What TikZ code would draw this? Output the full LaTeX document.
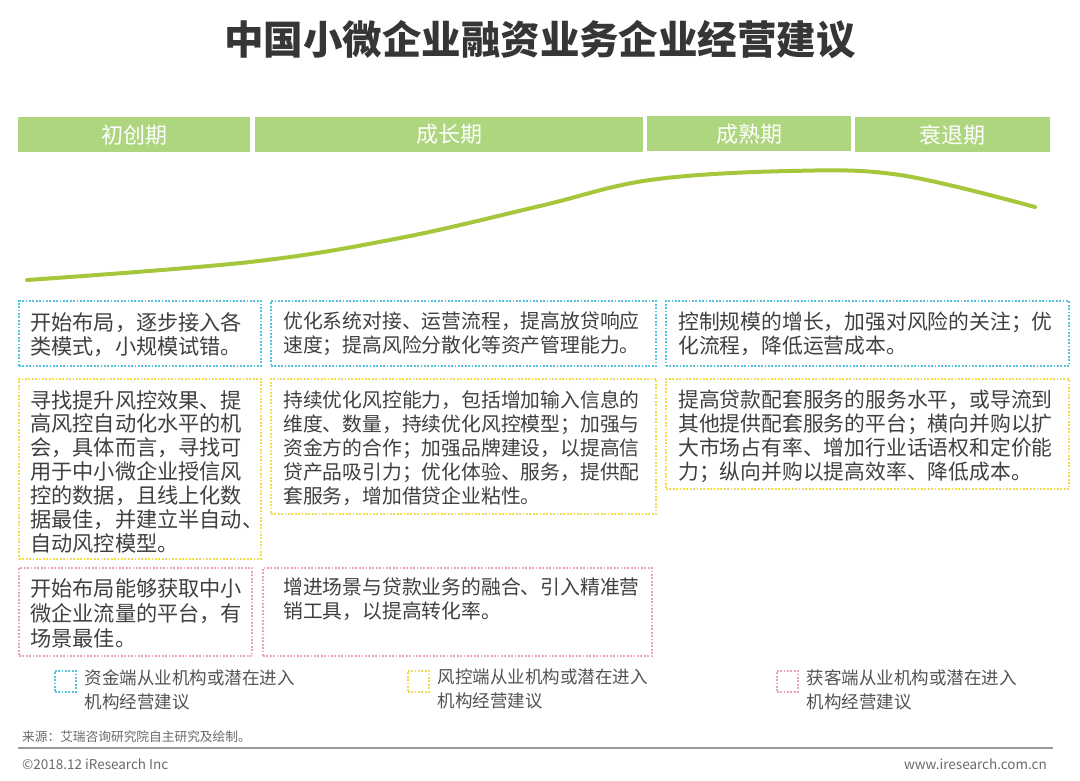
\documentclass[tikz,border=0pt]{standalone}
\usepackage{fontspec}
\setmainfont{Noto Sans CJK SC}

\definecolor{barGreen}{HTML}{AED67F}
\definecolor{curveGreen}{HTML}{A6C63C}
\definecolor{capCyan}{HTML}{55C2DE}
\definecolor{riskYellow}{HTML}{F1DC4C}
\definecolor{custPink}{HTML}{E8A6B7}
\definecolor{textGray}{HTML}{404040}
\definecolor{noteGray}{HTML}{6A6A6A}

\begin{document}
\begin{tikzpicture}[
    x=1pt, y=-1pt,
    bar/.style={fill=barGreen, anchor=north west, inner sep=0pt, minimum height=35pt,
        text=white, font=\fontsize{22}{26}\selectfont},
    tipbox/.style={draw=#1, line width=1.8pt, dash pattern=on 1.8pt off 1.6pt,
        anchor=north west, inner sep=0pt},
    key/.style={tipbox=#1, line width=1.5pt, minimum width=21pt, minimum height=21pt},
    txt/.style={anchor=north west, inner sep=0pt, align=left, text=textGray},
    colA/.style={txt, font=\fontsize{21.2}{23.9}\selectfont},
    colB/.style={txt, font=\fontsize{19.8}{24}\selectfont},
    colC/.style={txt, font=\fontsize{20.8}{24}\selectfont},
    keytxt/.style={txt, text=textGray!90, font=\fontsize{17.5}{24}\selectfont},
    small/.style={inner sep=0pt, text=noteGray, font=\fontsize{13}{15}\selectfont}
]

\fill[white] (0,0) rectangle (1080,780);
\useasboundingbox (0,0) rectangle (1080,780);

% Titulo
\node[text=textGray!85!black, font=\fontsize{39.5}{44}\bfseries] (title) at (540,40)
    {中国小微企业融资业务企业经营建议};

% --- Fases ---
\node[bar, minimum width=232pt] (f1) at (18,117) {初创期};
\node[bar, minimum width=388pt] (f2) at (255,117) {成长期};
\node[bar, minimum width=204pt] (f3) at (647,116) {成熟期};
\node[bar, minimum width=195pt] (f4) at (855,117) {衰退期};

% --- Curva do ciclo ---
\draw[curveGreen, line width=4pt, line cap=round] plot[smooth, tension=0.6] coordinates
    {(27,280) (250,262) (400,238) (540,206) (650,180) (790,171) (900,175) (1035,207)};

% --- Caixas: coluna 1 ---
\node[tipbox=capCyan, minimum width=242pt, minimum height=65pt] (a1) at (18,300) {};
\node[tipbox=riskYellow, minimum width=242pt, minimum height=180pt] (a2) at (18,378) {};
\node[tipbox=custPink, minimum width=233pt, minimum height=88pt] (a3) at (18,567) {};

\node[colA] (ta1) at ([xshift=12pt, yshift=-12pt]a1.north west)
    {开始布局，逐步接入各\\类模式，小规模试错。};
\node[colA] (ta2) at ([xshift=12pt, yshift=-12pt]a2.north west)
    {寻找提升风控效果、提\\高风控自动化水平的机\\会，具体而言，寻找可\\用于中小微企业授信风\\控的数据，且线上化数\\据最佳，并建立半自动、\\自动风控模型。};
\node[colA, font=\fontsize{21.2}{25}\selectfont] (ta3) at ([xshift=12pt, yshift=-11pt]a3.north west)
    {开始布局能够获取中小\\微企业流量的平台，有\\场景最佳。};

% --- Caixas: coluna 2 ---
\node[tipbox=capCyan, minimum width=385pt, minimum height=65pt] (b1) at (270,300) {};
\node[tipbox=riskYellow, minimum width=385pt, minimum height=135pt] (b2) at (270,378) {};
\node[tipbox=custPink, minimum width=389pt, minimum height=88pt] (b3) at (262,567) {};

\node[colB] (tb1) at ([xshift=13pt, yshift=-12pt]b1.north west)
    {优化系统对接、运营流程，提高放贷响应\\速度；提高风险分散化等资产管理能力。};
\node[colB] (tb2) at ([xshift=13pt, yshift=-12pt]b2.north west)
    {持续优化风控能力，包括增加输入信息的\\维度、数量，持续优化风控模型；加强与\\资金方的合作；加强品牌建设，以提高信\\贷产品吸引力；优化体验、服务，提供配\\套服务，增加借贷企业粘性。};
\node[colB] (tb3) at ([xshift=21pt, yshift=-11pt]b3.north west)
    {增进场景与贷款业务的融合、引入精准营\\销工具，以提高转化率。};

% --- Caixas: coluna 3 ---
\node[tipbox=capCyan, minimum width=403pt, minimum height=65pt] (c1) at (665,300) {};
\node[tipbox=riskYellow, minimum width=403pt, minimum height=110pt] (c2) at (665,378) {};

\node[colC] (tc1) at ([xshift=13pt, yshift=-12pt]c1.north west)
    {控制规模的增长，加强对风险的关注；优\\化流程，降低运营成本。};
\node[colC] (tc2) at ([xshift=13pt, yshift=-12pt]c2.north west)
    {提高贷款配套服务的服务水平，或导流到\\其他提供配套服务的平台；横向并购以扩\\大市场占有率、增加行业话语权和定价能\\力；纵向并购以提高效率、降低成本。};

% --- Legenda ---
\node[key=capCyan] (k1) at (54,670) {};
\node[key=riskYellow] (k2) at (407,670) {};
\node[key=custPink] (k3) at (776,670) {};
\node[keytxt] (kt1) at ([xshift=8pt, yshift=1pt]k1.north east) {资金端从业机构或潜在进入\\机构经营建议};
\node[keytxt] (kt2) at ([xshift=8pt, yshift=1pt]k2.north east) {风控端从业机构或潜在进入\\机构经营建议};
\node[keytxt] (kt3) at ([xshift=8pt, yshift=1pt]k3.north east) {获客端从业机构或潜在进入\\机构经营建议};

% --- Rodape ---
\node[small, anchor=west, font=\fontsize{12.7}{15}\selectfont] (src) at (22,737) {来源：艾瑞咨询研究院自主研究及绘制。};
\draw[gray!80, line width=1.6pt] (18,748) -- (1053,748);
\node[small, anchor=west, font=\fontsize{13.5}{15}\selectfont] (copy) at (22,764) {©2018.12 iResearch Inc};
\node[small, anchor=east, font=\fontsize{13.5}{15}\selectfont] (web) at (1047,764) {www.iresearch.com.cn};

\end{tikzpicture}
\end{document}
